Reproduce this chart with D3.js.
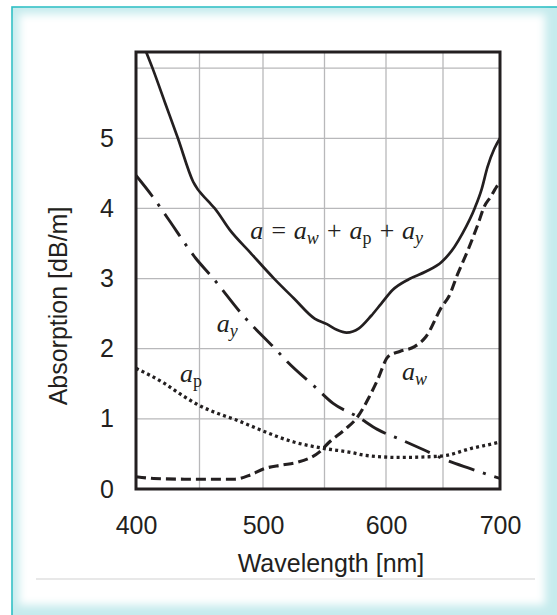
<!DOCTYPE html>
<html>
<head>
<meta charset="utf-8">
<script src="https://cdn.jsdelivr.net/npm/d3@7"></script>
<style>
  body { margin: 0; background: #fff; }
  svg { display: block; }
</style>
</head>
<body>
<svg id="chart" width="557" height="615"></svg>
<script>
// absorption curves, [wavelength nm, dB/m]
var aTotal = [[408,6.23],[413,6.0],[423,5.5],[433,5.0],[445,4.38],[457,4.1],[462,4.0],[474,3.69],
    [490,3.37],[509,3.0],[525,2.72],[542,2.43],[552,2.35],[560,2.27],[568,2.23],[578,2.29],[588,2.47],
    [596,2.64],[606,2.84],[620,2.99],[635,3.1],[649,3.24],[660,3.45],[667,3.64],[678,4.01],[684,4.28],
    [689,4.59],[695,4.85],[700,5.0]];
var aWater = [[400,0.175],[414,0.15],[440,0.14],[478,0.14],[490,0.2],[501,0.29],[515,0.34],[528,0.38],
    [546,0.53],[554,0.67],[566,0.84],[577,1.03],[586,1.3],[593,1.55],[602,1.89],[612,1.96],[625,2.03],
    [635,2.17],[649,2.6],[655,2.74],[663,3.07],[672,3.41],[681,3.79],[686,4.02],[692,4.17],[698,4.33],[700,4.36]];
var aParticles = [[400,1.72],[422,1.51],[436,1.34],[451,1.18],[470,1.04],[478,0.99],[493,0.88],[501,0.82],
    [525,0.67],[549,0.58],[572,0.52],[583,0.48],[612,0.45],[638,0.46],[653,0.48],[675,0.58],[695,0.65],[700,0.67]];
var aYellow = [[400,4.47],[413,4.17],[425,3.86],[447,3.29],[460,3.02],[484,2.48],[512,1.96],[520,1.81],
    [542,1.46],[557,1.22],[577,1.03],[593,0.85],[615,0.69],[633,0.56],[653,0.41],[674,0.29],[695,0.175],[700,0.15]];

var xTicks = [400, 500, 600, 700];
var xGrid = [450, 500, 550, 600, 650];
var yTicks = [0, 1, 2, 3, 4, 5];
var yGrid = [1, 2, 3, 4, 5, 6];

var svg = d3.select("#chart");
var ink = "#231f20";
var sans = "'Liberation Sans', Arial, sans-serif";

// the scanned figure is not quite linear, so a piecewise scale
var x = d3.scaleLinear().domain([400, 500, 600, 700]).range([136, 263, 386, 500]);
var y = d3.scaleLinear().domain([0, 6.23]).range([489, 52]);

// card background with cyan edge and soft inner glow
var defs = svg.append("defs");
defs.append("filter").attr("id", "soft")
    .attr("x", "-10%").attr("y", "-10%").attr("width", "120%").attr("height", "120%")
    .append("feGaussianBlur").attr("stdDeviation", 4);
defs.append("clipPath").attr("id", "plotclip")
    .append("rect")
    .attr("x", x(400)).attr("y", y(6.23))
    .attr("width", x(700) - x(400)).attr("height", y(0) - y(6.23));

svg.append("rect")
    .attr("x", 12).attr("y", 7).attr("width", 620).attr("height", 700)
    .attr("fill", "#c6ebed").attr("stroke", "#2cbfc4").attr("stroke-width", 1.6);
svg.append("rect")
    .attr("x", 19).attr("y", 14).attr("width", 526).attr("height", 591)
    .attr("fill", "#fff").attr("filter", "url(#soft)");

svg.append("line")
    .attr("x1", 36).attr("x2", 535).attr("y1", 579).attr("y2", 579)
    .attr("stroke", "#e8e8e8").attr("stroke-width", 2);

// grid
var g = svg.append("g");
g.selectAll(".vgrid").data(xGrid).enter().append("line")
    .attr("x1", d => x(d)).attr("x2", d => x(d))
    .attr("y1", y(0)).attr("y2", y(6.23))
    .attr("stroke", "#b8b8ba").attr("stroke-width", 1.3);
g.selectAll(".hgrid").data(yGrid).enter().append("line")
    .attr("x1", x(400)).attr("x2", x(700))
    .attr("y1", d => y(d)).attr("y2", d => y(d))
    .attr("stroke", "#b8b8ba").attr("stroke-width", 1.3);

// axis labels
var xAxis = svg.append("g")
    .attr("transform", "translate(0," + y(0) + ")")
    .call(d3.axisBottom(x).tickValues(xTicks).tickSize(0).tickPadding(27).tickFormat(d3.format("d")));
var yAxis = svg.append("g")
    .attr("transform", "translate(" + x(400) + ",0)")
    .call(d3.axisLeft(y).tickValues(yTicks).tickSize(0).tickPadding(22).tickFormat(d3.format("d")));
[xAxis, yAxis].forEach(function(a) {
    a.select(".domain").remove();
    a.selectAll("text")
        .attr("fill", ink)
        .style("font-family", sans)
        .style("font-size", "25px");
});

svg.append("text")
    .attr("x", 331).attr("y", 572)
    .attr("text-anchor", "middle").attr("fill", ink)
    .style("font-family", sans).style("font-size", "25px")
    .text("Wavelength [nm]");
svg.append("text")
    .attr("transform", "translate(67,306) rotate(-90)")
    .attr("text-anchor", "middle").attr("fill", ink)
    .style("font-family", sans).style("font-size", "25px")
    .text("Absorption [dB/m]");

// curves
var line = d3.line().x(d => x(d[0])).y(d => y(d[1])).curve(d3.curveMonotoneX);
var curves = svg.append("g").attr("clip-path", "url(#plotclip)");
var series = [
    {data: aTotal, dash: null, w: 2.7},
    {data: aWater, dash: "10,5", w: 3.1},
    {data: aParticles, dash: "3,3.2", w: 3.3},
    {data: aYellow, dash: "27,9,3,9", w: 2.9}
];
series.forEach(function(s) {
    curves.append("path")
        .attr("d", line(s.data))
        .attr("fill", "none")
        .attr("stroke", ink)
        .attr("stroke-width", s.w)
        .attr("stroke-dasharray", s.dash);
});

// frame
svg.append("rect")
    .attr("x", x(400)).attr("y", y(6.23))
    .attr("width", x(700) - x(400)).attr("height", y(0) - y(6.23))
    .attr("fill", "none").attr("stroke", ink).attr("stroke-width", 3);

// curve labels, placed in data units
function mathLabel(nm, val, parts) {
    var t = svg.append("text")
        .attr("x", x(nm)).attr("y", y(val))
        .attr("fill", ink)
        .style("font-family", "'Liberation Serif', 'Times New Roman', serif")
        .style("font-size", "26px").style("font-style", "italic");
    parts.forEach(function(p) {
        var ts = t.append("tspan").text(p.t);
        if (p.sub) ts.style("font-size", "18px").attr("dy", 5);
        if (p.up) ts.attr("dy", -5);
        if (p.roman) ts.style("font-style", "normal");
    });
}
mathLabel(490, 3.56, [{t: "a = a"}, {t: "w", sub: true}, {t: " + a", up: true},
    {t: "p", sub: true, roman: true}, {t: " + a", up: true}, {t: "y", sub: true}]);
mathLabel(463.5, 2.24, [{t: "a"}, {t: "y", sub: true}]);
mathLabel(434.6, 1.53, [{t: "a"}, {t: "p", sub: true, roman: true}]);
mathLabel(614, 1.555, [{t: "a"}, {t: "w", sub: true}]);
</script>
</body>
</html>
